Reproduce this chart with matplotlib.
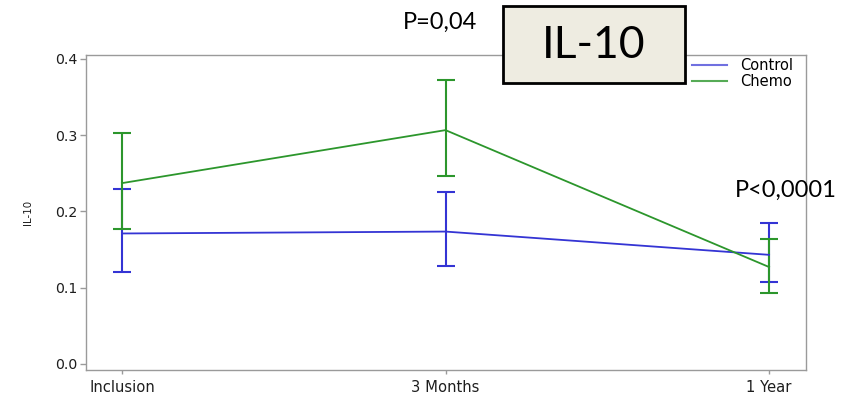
import matplotlib
matplotlib.use("Agg")
import matplotlib.pyplot as plt
from matplotlib.patches import Rectangle
from matplotlib.lines import Line2D

# Time points and group summaries (mean with lower/upper interval bounds)
timepoints = ["Inclusion", "3 Months", "1 Year"]
control_mean = [0.171, 0.1735, 0.143]
control_low = [0.120, 0.1285, 0.107]
control_high = [0.2295, 0.225, 0.1845]
chemo_mean = [0.237, 0.3065, 0.127]
chemo_low = [0.177, 0.247, 0.093]
chemo_high = [0.3026, 0.372, 0.164]
p_labels = ["P=0,04", "P<0,0001"]

BLUE = "#3434d4"
GREEN = "#2c962c"
SPINE = "#9a9a9a"
TXT = "#1e1e1e"
SANS = "DejaVu Sans"

fig = plt.figure(figsize=(8.59, 3.95), dpi=100)
ax = fig.add_axes([86 / 859, 25 / 395, 720 / 859, 315 / 395])

x = list(range(len(timepoints)))


def draw_group(mean, low, high, color):
    yerr = [[m - l for m, l in zip(mean, low)], [h - m for m, h in zip(mean, high)]]
    ax.errorbar(x, mean, yerr=yerr, color=color, lw=1.3, elinewidth=1.5,
                capsize=6.8, capthick=1.5)


draw_group(control_mean, control_low, control_high, BLUE)
draw_group(chemo_mean, chemo_low, chemo_high, GREEN)

ax.set_xlim(-0.111, 2.114)
ax.set_ylim(-0.008, 0.405)
ax.set_xticks(x)
ax.set_xticklabels(timepoints, fontsize=10.6, family=SANS, color=TXT)
ax.set_yticks([0.0, 0.1, 0.2, 0.3, 0.4])
ax.set_yticklabels(["0.0", "0.1", "0.2", "0.3", "0.4"], fontsize=10.2,
                   family=SANS, color=TXT)
ax.set_ylabel("IL-10", fontsize=7.4, family=SANS, color=TXT)
ax.yaxis.set_label_coords(-0.073, 0.5)
for s in ax.spines.values():
    s.set_color(SPINE)
    s.set_linewidth(1.0)
ax.tick_params(axis="y", color=SPINE, length=4.5, width=1.0, pad=1.5)
ax.tick_params(axis="x", color=SPINE, length=3, width=1.0, pad=4)

handles = [Line2D([], [], color=BLUE, lw=1.5, alpha=0.7),
           Line2D([], [], color=GREEN, lw=1.5, alpha=0.8)]
ax.legend(handles, ["Control", "Chemo"], loc="upper left",
          bbox_to_anchor=(692 / 859, 1 - 58 / 395), bbox_transform=fig.transFigure,
          frameon=False, borderpad=0, borderaxespad=0, handlelength=2.4,
          handletextpad=0.9, labelspacing=0.1,
          prop={"family": SANS, "size": 10.5})

# p-value annotations
fig.text(440 / 859, 1 - 22 / 395, p_labels[0], fontsize=17, family="Lato",
         ha="center", va="center", color="black")
fig.text(786 / 859, 1 - 190 / 395, p_labels[1], fontsize=17, family="Lato",
         ha="center", va="center", color="black")

# Title box overlapping the top of the plot
fig.patches.append(Rectangle((503 / 859, 1 - 83 / 395), 182 / 859, 77 / 395,
                             transform=fig.transFigure, facecolor="#EEECE1",
                             edgecolor="black", lw=2, zorder=5))
fig.text(594 / 859, 1 - 46 / 395, "IL-10", fontsize=32, family="Lato",
         ha="center", va="center", zorder=6)

fig.savefig("out.png", dpi=100)
